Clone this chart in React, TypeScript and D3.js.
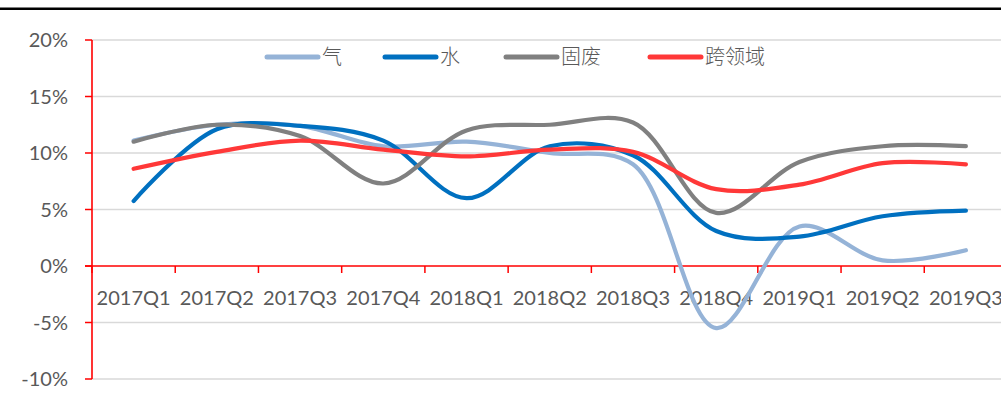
import React from "react";
import * as d3 from "d3";

const categories = ["2017Q1","2017Q2","2017Q3","2017Q4","2018Q1","2018Q2","2018Q3","2018Q4","2019Q1","2019Q2","2019Q3"];
const gas = [11.1, 12.5, 12.4, 10.6, 11.0, 10.0, 9.0, -5.5, 3.5, 0.5, 1.4];
const water = [5.75, 12.1, 12.4, 11.1, 6.0, 10.6, 9.8, 3.1, 2.6, 4.4, 4.9];
const waste = [11.0, 12.5, 11.5, 7.3, 12.0, 12.5, 12.7, 4.7, 9.2, 10.6, 10.6];
const cross = [8.6, 10.1, 11.1, 10.3, 9.7, 10.3, 10.1, 6.8, 7.2, 9.1, 9.0];
const yTicks = [-10, -5, 0, 5, 10, 15, 20];

const series = [
  { name: "气", values: gas, color: "#95B3D7" },
  { name: "水", values: water, color: "#0070C0" },
  { name: "固废", values: waste, color: "#808080" },
  { name: "跨领域", values: cross, color: "#FF3838" },
];
const legendX = [267, 385, 506, 650];

export default function App() {
  const W = 1001, H = 405;
  const x = d3.scaleBand<string>().domain(categories).range([92, 1007.5]);
  const y = d3.scaleLinear().domain([-10, 20]).range([379, 40]);
  const line = d3.line<number>()
    .x((_, i) => (x(categories[i]) as number) + x.bandwidth() / 2)
    .y((d) => y(d))
    .curve(d3.curveCatmullRom.alpha(0.5));
  const font = "Lato, 'Open Sans', sans-serif";
  const boundaries = categories.map((c) => x(c) as number).concat([x.range()[1]]);
  return (
    <svg width={W} height={H} style={{ position: "absolute", left: 0, top: 0, background: "#fff" }}>
      <rect width={W} height={H} fill="#fff" />
      <line x1={0} x2={W} y1={8.7} y2={8.7} stroke="#000" strokeWidth={2.6} />
      {yTicks.map((t) => (
        <g key={t}>
          {t !== 0 && (
            <line x1={92} x2={W} y1={y(t)} y2={y(t)} stroke="#D9D9D9" strokeWidth={1.3} />
          )}
          <line x1={85} x2={92} y1={y(t)} y2={y(t)} stroke="#FF0000" strokeWidth={1.5} />
          <text x={68} y={y(t) + 7} textAnchor="end" fontFamily={font} fontSize={20} fill="#595959">
            {t}%
          </text>
        </g>
      ))}
      <line x1={92} x2={92} y1={y(20)} y2={y(-10)} stroke="#FF0000" strokeWidth={1.6} />
      <line x1={85} x2={W} y1={y(0)} y2={y(0)} stroke="#FF0000" strokeWidth={1.6} />
      {boundaries.map((b, i) => (
        <line key={i} x1={b} x2={b} y1={y(0)} y2={y(0) + 7} stroke="#FF0000" strokeWidth={1.5} />
      ))}
      {categories.map((c) => (
        <text key={c} x={(x(c) as number) + x.bandwidth() / 2} y={305} textAnchor="middle"
          fontFamily={font} fontSize={20} fill="#595959">{c}</text>
      ))}
      {series.map((s) => (
        <path key={s.name} d={line(s.values) || ""} fill="none" stroke={s.color}
          strokeWidth={4.2} strokeLinecap="round" strokeLinejoin="round" />
      ))}
      {series.map((s, i) => (
        <g key={s.name}>
          <line x1={legendX[i]} x2={legendX[i] + 51} y1={57} y2={57} stroke={s.color}
            strokeWidth={5} strokeLinecap="round" />
          <text x={legendX[i] + 55} y={64} fontFamily="'Noto Sans CJK SC', sans-serif"
            fontSize={20} fontWeight={300} fill="#595959">{s.name}</text>
        </g>
      ))}
    </svg>
  );
}
